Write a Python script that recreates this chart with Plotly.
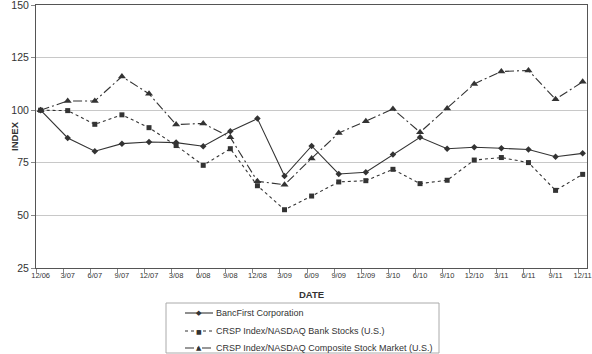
import plotly.graph_objects as go

dates = ["12/06", "3/07", "6/07", "9/07", "12/07", "3/08", "6/08", "9/08", "12/08", "3/09",
         "6/09", "9/09", "12/09", "3/10", "6/10", "9/10", "12/10", "3/11", "6/11", "9/11", "12/11"]
bancfirst = [100, 86.8, 80.5, 84.1, 84.9, 84.6, 82.9, 90.0, 96.0, 68.7,
             83.0, 69.7, 70.5, 78.9, 87.1, 81.7, 82.4, 81.9, 81.3, 77.9, 79.5]
bank_stocks = [100, 99.8, 93.3, 97.8, 91.7, 83.2, 73.8, 81.7, 64.1, 52.7,
               59.2, 65.9, 66.5, 71.9, 65.1, 66.7, 76.3, 77.5, 75.1, 61.9, 69.5]
composite = [100, 104.4, 104.4, 116.0, 107.8, 93.2, 93.7, 87.1, 66.2, 64.6,
             77.1, 89.2, 94.8, 100.6, 89.5, 100.8, 112.5, 118.4, 118.9, 105.2, 113.5]
names = ["BancFirst Corporation",
         "CRSP Index/NASDAQ Bank Stocks (U.S.)",
         "CRSP Index/NASDAQ Composite Stock Market (U.S.)"]
y_ticks = [25, 50, 75, 100, 125, 150]

W, H = 592, 354
L, R, T, B = 36, 5, 5, 86
PW, PH = W - L - R, H - T - B


def px_x(p):
    return (p - L) / PW


def px_y(p):
    return (H - B - p) / PH


xs = list(range(len(dates)))
col = "#333333"
dashes = ["solid", "3px,3px", "9px,3px,2px,3px"]
symbols = ["diamond", "square", "triangle-up"]
glyphs = ["◆", "■", "▲"]
msizes = [5, 5, 7]
series = [bancfirst, bank_stocks, composite]

fig = go.Figure()
for nm, ys, d, s, m in zip(names, series, dashes, symbols, msizes):
    fig.add_trace(go.Scatter(x=xs, y=ys, name=nm, mode="lines+markers",
                             line=dict(color=col, width=1.1, dash=d),
                             marker=dict(symbol=s, size=m, color=col),
                             showlegend=False))
# invisible trace to drive tick-mark overlay axis
fig.add_trace(go.Scatter(x=[x - 0.17 for x in xs], y=[None] * len(xs), xaxis="x2",
                         showlegend=False, hoverinfo="skip"))

shapes = [dict(type="rect", xref="paper", yref="paper",
               x0=px_x(166), x1=px_x(439), y0=px_y(353), y1=px_y(303),
               line=dict(color="#aaaaaa", width=1), fillcolor="white", layer="above")]
annotations = []
rows = [313, 331, 348]
for nm, d, g, ry, gs in zip(names, dashes, glyphs, rows, [7, 6, 7]):
    shapes.append(dict(type="line", xref="paper", yref="paper",
                       x0=px_x(185), x1=px_x(213), y0=px_y(ry), y1=px_y(ry),
                       line=dict(color=col, width=1.1, dash=d), layer="above"))
    annotations.append(dict(text=g, xref="paper", yref="paper", x=px_x(199), y=px_y(ry),
                            showarrow=False, xanchor="center", yanchor="middle",
                            font=dict(size=gs, color=col, family="DejaVu Sans")))
    annotations.append(dict(text=nm, xref="paper", yref="paper", x=px_x(214), y=px_y(ry),
                            showarrow=False, xanchor="left", yanchor="middle",
                            font=dict(size=9, color=col)))
annotations.append(dict(text="<b>DATE</b>", xref="paper", yref="paper",
                        x=px_x(311), y=px_y(294), showarrow=False,
                        xanchor="center", yanchor="middle", font=dict(size=9.5, color=col)))
annotations.append(dict(text="<b>INDEX</b>", xref="paper", yref="paper",
                        x=px_x(14), y=px_y(136), showarrow=False, textangle=-90,
                        xanchor="center", yanchor="middle", font=dict(size=9.5, color=col)))

fig.update_layout(
    width=W, height=H,
    margin=dict(l=L, r=R, t=T, b=B),
    paper_bgcolor="white", plot_bgcolor="white",
    font=dict(family="Liberation Sans, Arial, sans-serif", color="#333333"),
    xaxis=dict(range=[-0.17, 20.16], tickvals=xs, ticktext=dates, ticks="",
               tickfont=dict(size=7.5), showgrid=False, zeroline=False,
               ticklabeloverflow="allow", automargin=False,
               showline=True, linecolor="#555555", linewidth=1, mirror=True),
    xaxis2=dict(overlaying="x", range=[-0.17, 20.16], tickvals=[x - 0.17 for x in xs],
                ticks="outside", ticklen=4, tickcolor="#888888", showticklabels=False,
                showgrid=False, zeroline=False, side="bottom", anchor="y"),
    yaxis=dict(range=[25, 150], tickvals=y_ticks, tickfont=dict(size=10.5),
               showgrid=True, gridcolor="#c8c8c8", gridwidth=1, zeroline=False,
               ticklabeloverflow="allow", automargin=False,
               showline=True, linecolor="#555555", linewidth=1, mirror=True,
               ticks="outside", ticklen=4, tickcolor="#888888"),
    shapes=shapes,
    annotations=annotations,
    showlegend=False,
)
fig.write_html("out.html")
